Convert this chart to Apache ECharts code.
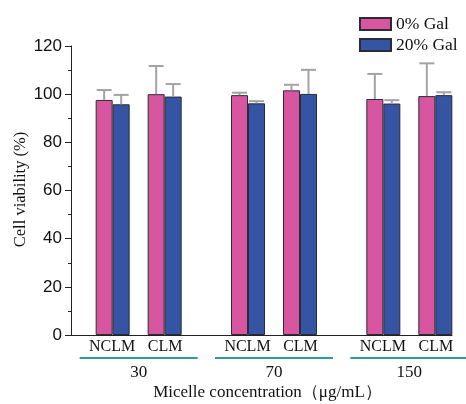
<!DOCTYPE html>
<html><head><meta charset="utf-8">
<script src="https://cdn.jsdelivr.net/npm/echarts@6/dist/echarts.min.js"></script>
<style>html,body{margin:0;padding:0;background:#fff}#c{width:466px;height:404px}</style>
</head><body><div id="c"></div>
<script>
// ---- data ----
const groups = ['30', '70', '150'];
const subLabels = ['NCLM', 'CLM'];
const legendNames = ['0% Gal', '20% Gal'];
const nclm0 = [97.6, 99.6, 98.0];
const nclm20 = [95.8, 96.2, 96.1];
const clm0 = [100.0, 101.6, 99.2];
const clm20 = [99.0, 100.1, 99.6];
const nclm0Err = [4.1, 1.0, 10.4];
const nclm20Err = [3.9, 0.9, 1.4];
const clm0Err = [11.7, 2.3, 13.6];
const clm20Err = [5.2, 10.0, 1.2];
const yMin = 0, yMax = 120, yInterval = 20;

// ---- style ----
const SERIF = 'Liberation Serif, Times New Roman, serif';
const SANS = 'Liberation Sans, Arial, sans-serif';
const PINK = '#d7569f', BLUE = '#3554a4', EDGE = '#2b2b35', ERR = '#a3a3a3', TEAL = '#2e9c98';
const BAR_W = 17, GAP_W = 18;
const TOTAL = BAR_W * 4 + GAP_W;
const start = -TOTAL / 2;
const OFFSETS = [start + BAR_W / 2, start + BAR_W * 1.5, start + BAR_W * 2 + GAP_W + BAR_W / 2, start + BAR_W * 3 + GAP_W + BAR_W / 2];

const barSets = [
  { name: legendNames[0], data: nclm0, err: nclm0Err, color: PINK },
  { name: legendNames[1], data: nclm20, err: nclm20Err, color: BLUE },
  { name: legendNames[0], data: clm0, err: clm0Err, color: PINK },
  { name: legendNames[1], data: clm20, err: clm20Err, color: BLUE }
];

const errData = [];
barSets.forEach((s, slot) => s.data.forEach((v, i) => errData.push([i, v, s.err[i], slot])));

function barSeries(s) {
  return {
    type: 'bar', name: s.name, data: s.data, barWidth: BAR_W, barGap: '0%',
    xAxisIndex: 0, yAxisIndex: 0,
    itemStyle: { color: s.color, borderColor: EDGE, borderWidth: 1 },
    emphasis: { disabled: true }, z: 2
  };
}

const series = [
  barSeries(barSets[0]), barSeries(barSets[1]),
  { type: 'bar', name: 'spacer', data: groups.map(() => '-'), barWidth: GAP_W, barGap: '0%', silent: true },
  barSeries(barSets[2]), barSeries(barSets[3]),
  {
    type: 'custom', name: 'err', xAxisIndex: 0, yAxisIndex: 0, data: errData, z: 5, silent: true,
    renderItem: function (params, api) {
      const i = api.value(0), m = api.value(1), e = api.value(2), slot = api.value(3);
      const p0 = api.coord([i, m]);
      const p1 = api.coord([i, m + e]);
      const x = p0[0] + OFFSETS[slot];
      const st = { stroke: ERR, lineWidth: 2 };
      return {
        type: 'group', children: [
          { type: 'line', shape: { x1: x, y1: p0[1], x2: x, y2: p1[1] }, style: st },
          { type: 'line', shape: { x1: x - 7.5, y1: p1[1], x2: x + 7.5, y2: p1[1] }, style: st }
        ]
      };
    }
  }
];

const chart = echarts.init(document.getElementById('c'), null, { renderer: 'canvas' });
chart.setOption({
  animation: false,
  backgroundColor: '#fff',
  legend: {
    data: legendNames, orient: 'vertical', left: 354, top: 9, padding: 5,
    itemWidth: 31, itemHeight: 12, itemGap: 1, icon: 'rect',
    textStyle: { fontFamily: SERIF, fontSize: 17.5, color: '#111', lineHeight: 20 },
    selectedMode: false
  },
  grid: [
    { left: 71, width: 406, top: 46, bottom: 69, outerBoundsMode: 'none', containLabel: false },
    { left: 71, right: 14, top: 46, bottom: 69, outerBoundsMode: 'none', containLabel: false }
  ],
  xAxis: [
    {
      type: 'category', gridIndex: 0, data: groups,
      axisLine: { show: false }, axisTick: { show: false },
      axisLabel: {
        interval: 0, margin: 4, hideOverlap: false,
        formatter: v => `{s|${subLabels[0]}}{s|${subLabels[1]}}\n{bar| }\n{v|${v}}`,
        rich: {
          s: { width: 53, align: 'center', fontSize: 16, lineHeight: 16, fontFamily: SERIF, color: '#111' },
          bar: { width: 118, height: 2, lineHeight: 6, backgroundColor: TEAL, align: 'center', fontSize: 2 },
          v: { fontSize: 17, lineHeight: 23, align: 'center', fontFamily: SERIF, color: '#111' }
        }
      }
    },
    {
      type: 'value', gridIndex: 1, min: 0, max: 1,
      axisLine: { show: true, lineStyle: { color: '#222', width: 1 } },
      axisTick: { show: false }, axisLabel: { show: false }, splitLine: { show: false },
      name: 'Micelle concentration（μg/mL）', nameLocation: 'middle', nameGap: 49, nameMoveOverlap: false,
      nameTextStyle: { fontFamily: SERIF, fontSize: 17, color: '#111', padding: [0, 0, 0, 12] }
    }
  ],
  yAxis: [
    {
      type: 'value', gridIndex: 0, min: yMin, max: yMax, interval: yInterval,
      axisLine: { show: true, lineStyle: { color: '#222', width: 1 } },
      axisTick: { show: true, length: 6, lineStyle: { color: '#222' } },
      minorTick: { show: true, splitNumber: 2, length: 3, lineStyle: { color: '#222' } },
      splitLine: { show: false },
      axisLabel: { margin: 9, fontFamily: SANS, fontSize: 17, color: '#111' },
      name: 'Cell viability (%)', nameLocation: 'middle', nameGap: 42, nameRotate: 90, nameMoveOverlap: false,
      nameTextStyle: { fontFamily: SERIF, fontSize: 16.5, color: '#111', padding: [0, 0, 0, 2] }
    },
    { type: 'value', gridIndex: 1, show: false, min: 0, max: 1 }
  ],
  series: series
});
</script>
</body></html>
